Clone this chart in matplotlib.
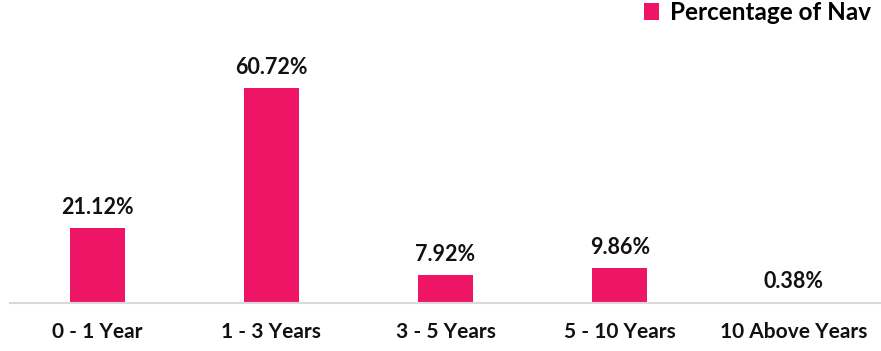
import matplotlib

matplotlib.use("Agg")
import matplotlib.pyplot as plt
from matplotlib.patches import Patch

categories = ["0 - 1 Year", "1 - 3 Years", "3 - 5 Years", "5 - 10 Years", "10 Above Years"]
values = [21.12, 60.72, 7.92, 9.86, 0.38]
labels = ["21.12%", "60.72%", "7.92%", "9.86%", "0.38%"]
series_name = "Percentage of Nav"

BAR_COLOR = "#EE1566"

plt.rcParams["font.family"] = ["Lato", "DejaVu Sans"]
plt.rcParams["font.weight"] = "bold"

fig = plt.figure(figsize=(8.81, 3.51), dpi=100)
ax = fig.add_axes([10 / 881, 48 / 351, 871 / 881, 262 / 351])

x = range(len(categories))
ax.bar(x, values, width=0.315, color=BAR_COLOR)
for xi, v, lab in zip(x, values, labels):
    ax.text(xi, v + 2.8, lab, ha="center", va="bottom", fontsize=15.5,
            fontweight="bold", color="#111111")

ax.set_xlim(-0.5, len(categories) - 0.5)
ax.set_ylim(0, 74)
ax.set_xticks(list(x))
ax.set_xticklabels(categories, fontsize=15, fontweight="bold", color="#111111")
ax.tick_params(axis="x", length=0, pad=14)
ax.set_yticks([])
for side in ["top", "right", "left"]:
    ax.spines[side].set_visible(False)
ax.spines["bottom"].set_color("#d9d9d9")
ax.spines["bottom"].set_linewidth(1.5)

fig.legend(
    [Patch(facecolor=BAR_COLOR)],
    [series_name],
    loc="upper right",
    bbox_to_anchor=(881 / 881, 1.025),
    frameon=False,
    handlelength=0.65,
    handleheight=0.65,
    handletextpad=0.45,
    borderaxespad=0.0,
    prop={"weight": "bold", "size": 17.5},
)

fig.savefig("out.png", dpi=100)
